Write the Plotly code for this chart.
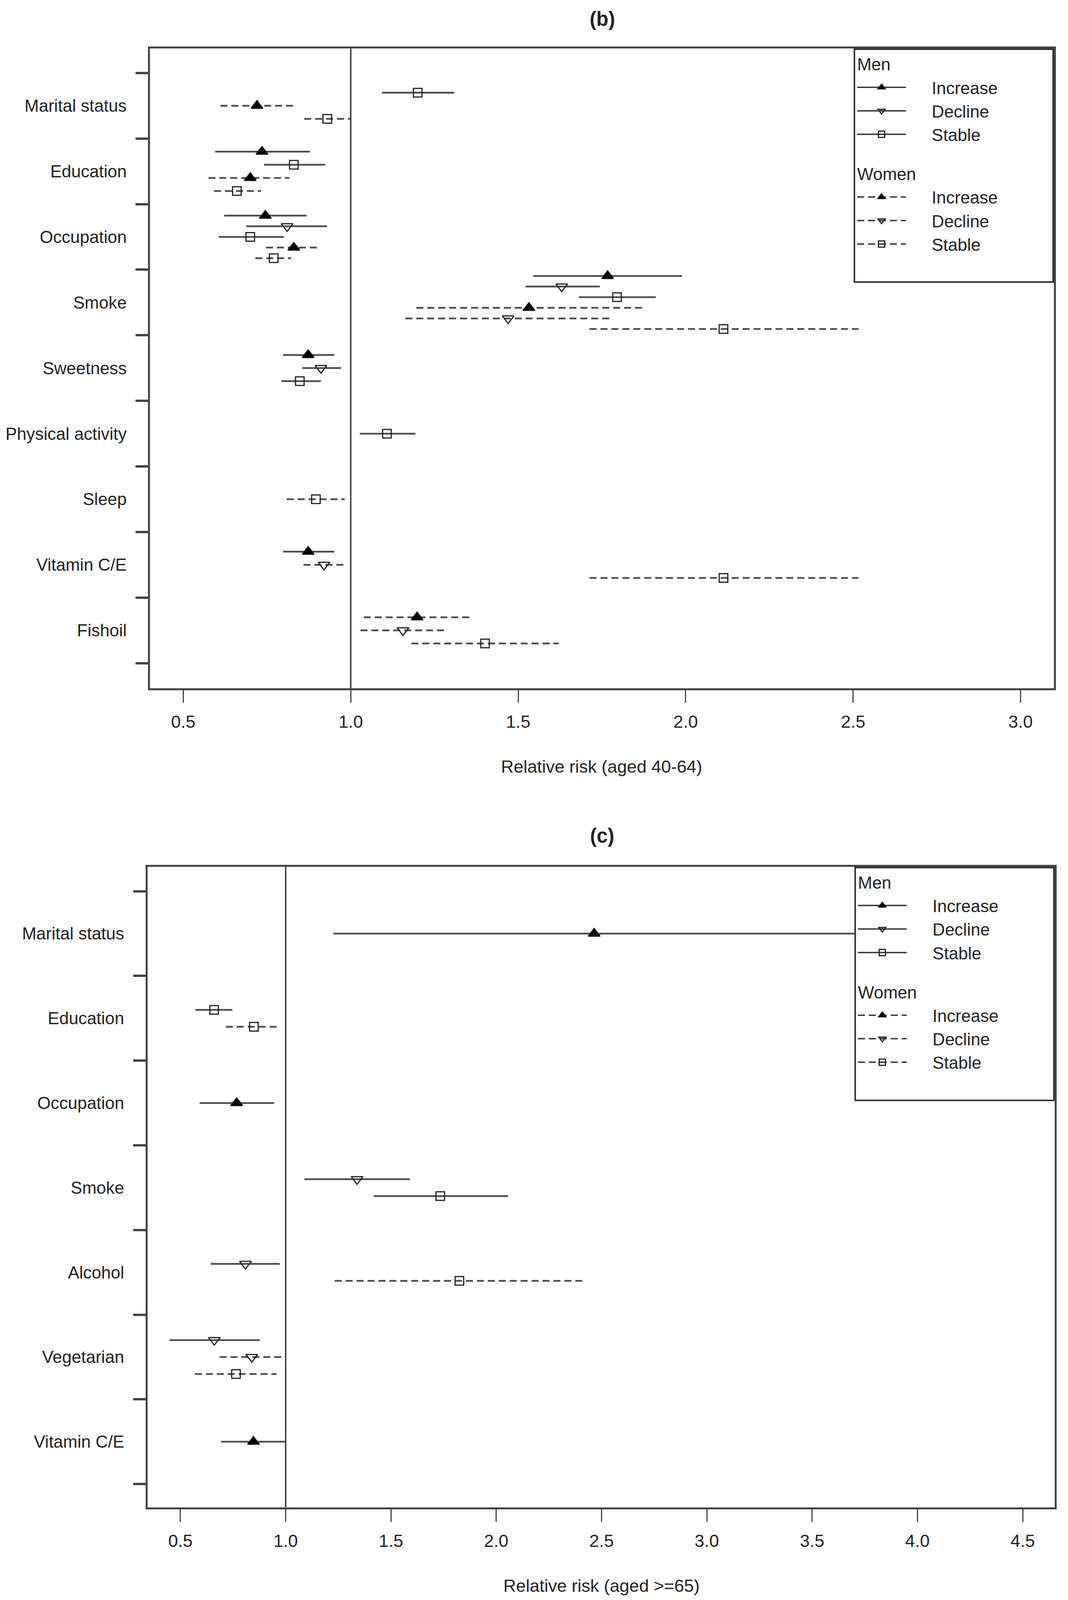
import plotly.graph_objects as go

W = 2735          # figure width (px)
REF_H = 4473      # height of the reference layout grid used for positions
H = 4096          # height that fits the browser viewport

# ---------------- Panel (b): aged 40-64 ----------------
b_categories = ["Marital status", "Education", "Occupation", "Smoke", "Sweetness",
                "Physical activity", "Sleep", "Vitamin C/E", "Fishoil"]
b_cat = ["Marital status"] * 3 + ["Education"] * 4 + ["Occupation"] * 5 + ["Smoke"] * 6 + \
        ["Sweetness"] * 3 + ["Physical activity"] + ["Sleep"] + ["Vitamin C/E"] * 3 + ["Fishoil"] * 3
b_sex = ["Men", "Women", "Women",
         "Men", "Men", "Women", "Women",
         "Men", "Men", "Men", "Women", "Women",
         "Men", "Men", "Men", "Women", "Women", "Women",
         "Men", "Men", "Men",
         "Men",
         "Women",
         "Men", "Women", "Women",
         "Women", "Women", "Women"]
b_trend = ["Stable", "Increase", "Stable",
           "Increase", "Stable", "Increase", "Stable",
           "Increase", "Decline", "Stable", "Increase", "Stable",
           "Increase", "Decline", "Stable", "Increase", "Decline", "Stable",
           "Increase", "Decline", "Stable",
           "Stable",
           "Stable",
           "Increase", "Decline", "Stable",
           "Increase", "Decline", "Stable"]
b_rr = [1.20, 0.72, 0.93,
        0.735, 0.83, 0.70, 0.66,
        0.745, 0.81, 0.70, 0.83, 0.77,
        1.767, 1.63, 1.795, 1.532, 1.47, 2.113,
        0.873, 0.911, 0.848,
        1.108,
        0.896,
        0.873, 0.920, 2.113,
        1.198, 1.156, 1.401]
b_lo = [1.093, 0.611, 0.861,
        0.595, 0.741, 0.575, 0.592,
        0.622, 0.688, 0.606, 0.747, 0.715,
        1.545, 1.522, 1.681, 1.196, 1.163, 1.713,
        0.798, 0.855, 0.793,
        1.027,
        0.809,
        0.798, 0.859, 1.713,
        1.039, 1.029, 1.181]
b_hi = [1.309, 0.836, 0.999,
        0.878, 0.924, 0.817, 0.732,
        0.868, 0.929, 0.800, 0.905, 0.822,
        1.989, 1.744, 1.911, 1.872, 1.777, 2.516,
        0.951, 0.971, 0.911,
        1.193,
        0.982,
        0.951, 0.982, 2.516,
        1.361, 1.282, 1.621]
b_xticks = [0.5, 1.0, 1.5, 2.0, 2.5, 3.0]

# ---------------- Panel (c): aged >=65 ----------------
c_categories = ["Marital status", "Education", "Occupation", "Smoke", "Alcohol",
                "Vegetarian", "Vitamin C/E"]
c_cat = ["Marital status", "Education", "Education", "Occupation", "Smoke", "Smoke",
         "Alcohol", "Alcohol", "Vegetarian", "Vegetarian", "Vegetarian", "Vitamin C/E"]
c_sex = ["Men", "Men", "Women", "Men", "Men", "Men",
         "Men", "Women", "Men", "Women", "Women", "Men"]
c_trend = ["Increase", "Stable", "Stable", "Increase", "Decline", "Stable",
           "Decline", "Stable", "Decline", "Decline", "Stable", "Increase"]
c_rr = [2.465, 0.660, 0.849, 0.767, 1.339, 1.734, 0.809, 1.825, 0.661, 0.839, 0.764, 0.847]
c_lo = [1.227, 0.571, 0.716, 0.591, 1.089, 1.418, 0.644, 1.233, 0.449, 0.686, 0.569, 0.693]
c_hi = [4.95, 0.747, 0.972, 0.945, 1.590, 2.056, 0.972, 2.417, 0.877, 0.993, 0.957, 1.000]
c_xticks = [0.5, 1.0, 1.5, 2.0, 2.5, 3.0, 3.5, 4.0, 4.5]

SERIES = [("Men", "Increase"), ("Men", "Decline"), ("Men", "Stable"),
          ("Women", "Increase"), ("Women", "Decline"), ("Women", "Stable")]

SYMBOL = {"Increase": "triangle-up", "Decline": "triangle-down-open", "Stable": "square-open"}
DASH = {"Men": "solid", "Women": "18px,10px"}
LINE_COL = "#4d4d4d"
AX_COL = "#444444"
FONT = "Liberation Sans, Arial, sans-serif"
NB = "\u00a0"


def positions(cats, categories, sexes, trends):
    order = {s: i for i, s in enumerate(SERIES)}
    ys = [None] * len(cats)
    for gi, g in enumerate(categories):
        idx = [i for i, c in enumerate(cats) if c == g]
        idx.sort(key=lambda i: order[(sexes[i], trends[i])])
        n = len(idx)
        step = 0.2 if n <= 4 else 0.162
        for k, i in enumerate(idx):
            ys[i] = gi + (k - (n - 1) / 2) * step
    return ys


fig = go.Figure()


def add_panel(cats, categories, sexes, trends, rr, lo, hi, xa, ya, legend_name, tag):
    ys = positions(cats, categories, sexes, trends)
    for sex, trend in SERIES:
        idx = [i for i in range(len(cats)) if sexes[i] == sex and trends[i] == trend]
        lx, ly = [], []
        for i in idx:
            lx += [lo[i], hi[i], None]
            ly += [ys[i], ys[i], None]
        mk = dict(symbol=SYMBOL[trend], size=26 if trend != "Stable" else 22,
                  color="black" if trend == "Increase" else "#222222",
                  line=dict(width=3, color="#111111" if trend == "Increase" else "#222222"))
        fig.add_trace(go.Scatter(x=lx, y=ly, mode="lines", xaxis=xa, yaxis=ya,
                                 line=dict(color=LINE_COL, width=4.5, dash=DASH[sex]),
                                 showlegend=False, hoverinfo="skip"))
        fig.add_trace(go.Scatter(x=[rr[i] for i in idx], y=[ys[i] for i in idx], mode="markers",
                                 xaxis=xa, yaxis=ya, marker=mk, showlegend=False,
                                 name=f"{sex} {trend}"))
        kw = {}
        if trend == "Increase":
            kw["legendgrouptitle"] = dict(text=sex, font=dict(family=FONT, size=44, color="#222"))
        fig.add_trace(go.Scatter(x=[None], y=[None], mode="lines+markers", xaxis=xa, yaxis=ya,
                                 line=dict(color="#333333", width=3.5, dash=DASH[sex]),
                                 marker=mk, name=NB * 5 + trend + NB * 11, legend=legend_name,
                                 legendgroup=f"{tag}_{sex}", showlegend=True, **kw))
    # blank row giving the legend box its bottom padding
    fig.add_trace(go.Scatter(x=[None], y=[None], mode="none", xaxis=xa, yaxis=ya, name=NB,
                             legend=legend_name, legendgroup=f"{tag}_Women", showlegend=True,
                             hoverinfo="skip"))


add_panel(b_cat, b_categories, b_sex, b_trend, b_rr, b_lo, b_hi, "x", "y", "legend", "b")
add_panel(c_cat, c_categories, c_sex, c_trend, c_rr, c_lo, c_hi, "x2", "y2", "legend2", "c")

bx = [384 / W, 2699 / W]
by = [1 - 1924 / REF_H, 1 - 135.6 / REF_H]
cx = [377.6 / W, 2701 / W]
cy = [1 - 4214 / REF_H, 1 - 2423 / REF_H]


def xaxis_cfg(domain, rng, ticks, anchor):
    return dict(domain=domain, range=rng, anchor=anchor, tickmode="array", tickvals=ticks,
                ticktext=[f"{t:.1f}" for t in ticks], ticks="outside", ticklen=32, tickwidth=3,
                tickcolor=AX_COL, showline=True, mirror=True, linewidth=4.5, linecolor=AX_COL,
                showgrid=False, zeroline=False, ticklabelstandoff=10,
                tickfont=dict(family=FONT, size=45, color="#222"))


def yaxis_cfg(domain, rng, categories, anchor):
    n = len(categories)
    return dict(domain=domain, range=rng, anchor=anchor, tickmode="array",
                tickvals=list(range(n)), ticktext=categories, ticks="outside", ticklen=46,
                tickcolor="rgba(0,0,0,0)", showline=True, mirror=True, linewidth=4.5,
                linecolor=AX_COL, showgrid=False, zeroline=False,
                tickfont=dict(family=FONT, size=44, color="#222"),
                minor=dict(tickmode="array", tickvals=[k - 0.5 for k in range(n + 1)],
                           ticks="outside", ticklen=32, tickwidth=6, tickcolor=AX_COL,
                           showgrid=False))


legend_common = dict(bgcolor="white", bordercolor="#333", borderwidth=4, itemwidth=125,
                     tracegroupgap=40, traceorder="grouped",
                     font=dict(family=FONT, size=44, color="#222"))

fig.update_layout(
    width=W, height=H, margin=dict(l=0, r=0, t=0, b=0),
    paper_bgcolor="white", plot_bgcolor="white",
    xaxis=xaxis_cfg(bx, [0.4005, 3.0996], b_xticks, "y"),
    yaxis=yaxis_cfg(by, [8.882, -0.873], b_categories, "x"),
    xaxis2=xaxis_cfg(cx, [0.3436, 4.652], c_xticks, "y2"),
    yaxis2=yaxis_cfg(cy, [6.775, -0.79], c_categories, "x2"),
    legend=dict(x=bx[1], xanchor="right", y=by[1], yanchor="top", **legend_common),
    legend2=dict(x=cx[1], xanchor="right", y=cy[1], yanchor="top", **legend_common),
    showlegend=True,
)

for xa, ya in [("x", "y"), ("x2", "y2")]:
    fig.add_shape(type="line", xref=xa, yref=f"{ya} domain", x0=1, x1=1, y0=0, y1=1,
                  line=dict(color="#333", width=3.5), layer="above")

ann = [
    dict(text="<b>(b)</b>", x=1542 / W, y=1 - 53 / REF_H, size=51),
    dict(text="Relative risk (aged 40-64)", x=1540 / W, y=1 - 2143 / REF_H, size=45),
    dict(text="<b>(c)</b>", x=1542 / W, y=1 - 2336 / REF_H, size=51),
    dict(text="Relative risk (aged >=65)", x=1540 / W, y=1 - 4433 / REF_H, size=45),
]
for a in ann:
    fig.add_annotation(text=a["text"], x=a["x"], y=a["y"], xref="paper", yref="paper",
                       xanchor="center", yanchor="middle", showarrow=False,
                       font=dict(family=FONT, size=a["size"], color="#222"))

fig.write_html("out.html", config={"displayModeBar": False},
               post_script="document.body.style.margin='0';")
